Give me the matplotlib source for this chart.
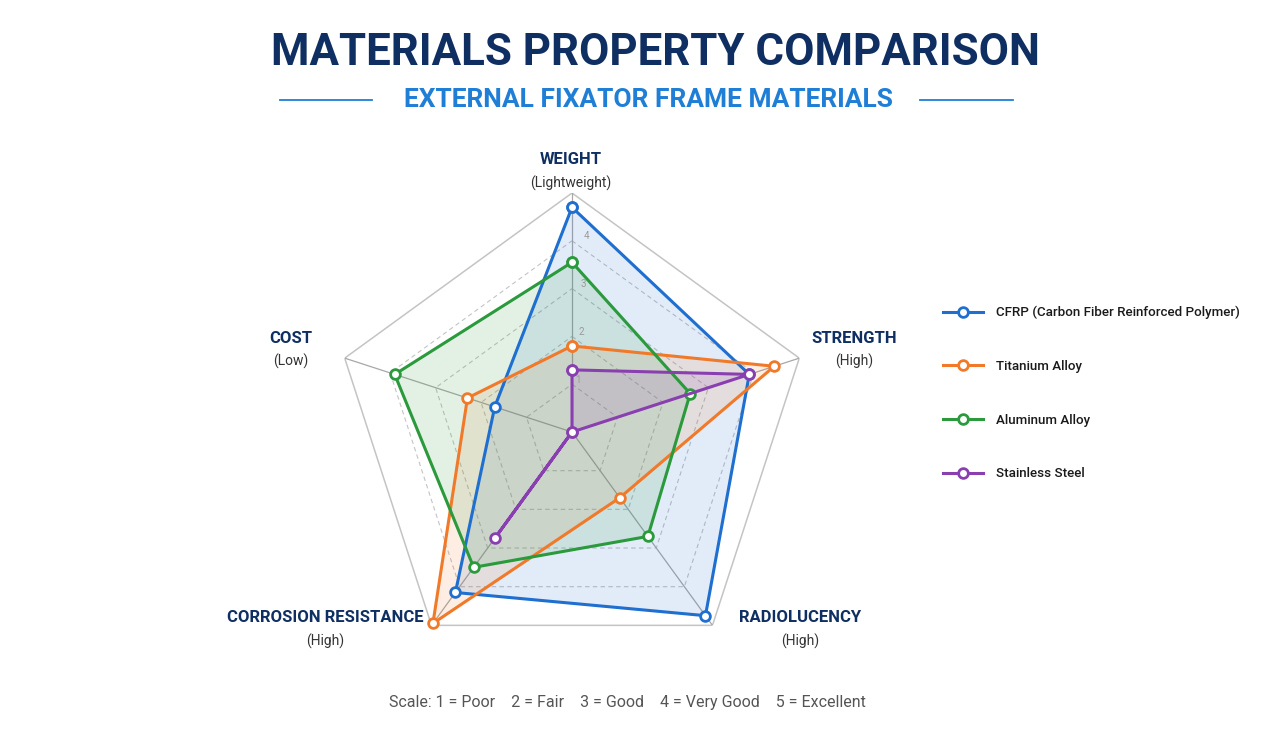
import numpy as np
import matplotlib
matplotlib.use("Agg")
import matplotlib.pyplot as plt
from matplotlib.lines import Line2D

plt.rcParams['font.family'] = ['Roboto', 'DejaVu Sans']

# axes, clockwise from the top
axis_names = ["WEIGHT", "STRENGTH", "RADIOLUCENCY", "CORROSION RESISTANCE", "COST"]
axis_notes = ["(Lightweight)", "(High)", "(High)", "(High)", "(Low)"]

materials = ["CFRP (Carbon Fiber Reinforced Polymer)", "Titanium Alloy",
             "Aluminum Alloy", "Stainless Steel"]
cfrp = [4.7, 3.9, 4.75, 4.15, 1.7]
titanium = [1.8, 4.45, 1.7, 4.95, 2.3]
aluminum = [3.55, 2.6, 2.7, 3.5, 3.9]
steel = [1.3, 3.9, 0.0, 2.75, 0.0]
colors = ["#1f6fd0", "#f07a2a", "#2b9a3c", "#8a3fb0"]

scale_text = "Scale: 1 = Poor    2 = Fair    3 = Good    4 = Very Good    5 = Excellent"

navy = "#0f2f62"

fig = plt.figure(figsize=(12.8, 7.31), dpi=100)
fig.patch.set_facecolor("white")

# titles
fig.text(0.512, 0.928, "MATERIALS PROPERTY COMPARISON", ha="center", va="center",
         fontsize=31.6, fontweight="bold", color=navy)
fig.text(0.507, 0.863, "EXTERNAL FIXATOR FRAME MATERIALS", ha="center", va="center",
         fontsize=19, fontweight="bold", color="#1f7fd6")
fig.add_artist(Line2D([280 / 1280, 372 / 1280], [0.863, 0.863], color="#1f7fd6", lw=1.3))
fig.add_artist(Line2D([920 / 1280, 1013 / 1280], [0.863, 0.863], color="#1f7fd6", lw=1.3))

# radar
cx, cy, R = 572, 432, 239
ax = fig.add_axes([(cx - R) / 1280, (731 - cy - R) / 731, 2 * R / 1280, 2 * R / 731],
                  projection="polar")
ax.set_theta_offset(np.pi / 2)
ax.set_theta_direction(-1)
ax.set_ylim(0, 5)
ax.grid(False)
ax.spines["polar"].set_visible(False)
ax.set_xticks([])
ax.set_yticks([])
ax.patch.set_alpha(0)

n = len(axis_names)
angles = np.linspace(0, 2 * np.pi, n, endpoint=False)
loop = np.append(angles, angles[0])

# pentagon grid
for lev in [1, 2, 3, 4]:
    ax.plot(loop, [lev] * (n + 1), color="#c4c4c4", lw=0.8, ls=(0, (4, 3)), zorder=1)
ax.plot(loop, [5] * (n + 1), color="#c4c4c4", lw=1.1, zorder=1)
for a in angles:
    ax.plot([a, a], [0, 5], color="#a8a8a8", lw=0.9, zorder=1)
for lev in [1, 2, 3, 4]:
    ax.text(0.06, lev + 0.1, str(lev), fontsize=7, color="#9a9a9a", ha="left", va="center")

for name, vals, c in zip(materials, [cfrp, titanium, aluminum, steel], colors):
    v = np.append(vals, vals[0])
    ax.fill(loop, v, color=c, alpha=0.13, zorder=2)
    ax.plot(loop, v, color=c, lw=2.2, zorder=3, marker="o", markersize=7,
            markerfacecolor="white", markeredgecolor=c, markeredgewidth=2,
            label=name, clip_on=False)

# axis labels (pixel positions)
label_pos = [(571, 160), (854, 338), (800, 618), (325, 618), (291, 338)]
for (x, y), name, note in zip(label_pos, axis_names, axis_notes):
    fig.text(x / 1280, 1 - y / 731, name, ha="center", va="center",
             fontsize=12, fontweight="bold", color=navy)
    fig.text(x / 1280, 1 - (y + 23) / 731, note, ha="center", va="center",
             fontsize=10, color="#333333")

# legend
handles = [Line2D([0], [0], color=c, lw=2.2, marker="o", markersize=7,
                  markerfacecolor="white", markeredgecolor=c, markeredgewidth=2)
           for c in colors]
leg = fig.legend(handles, materials, loc="upper left",
                 bbox_to_anchor=(931 / 1280, 1 - 294 / 731),
                 frameon=False, fontsize=9.6, labelspacing=3.05, handlelength=3.0,
                 handletextpad=1.0)
for t in leg.get_texts():
    t.set_color("#1a1a1a")
    t.set_fontweight("medium")

fig.text(627 / 1280, 1 - 702 / 731, scale_text, ha="center", va="center",
         fontsize=11.5, color="#555555")

fig.savefig("out.png", dpi=100, facecolor="white")
